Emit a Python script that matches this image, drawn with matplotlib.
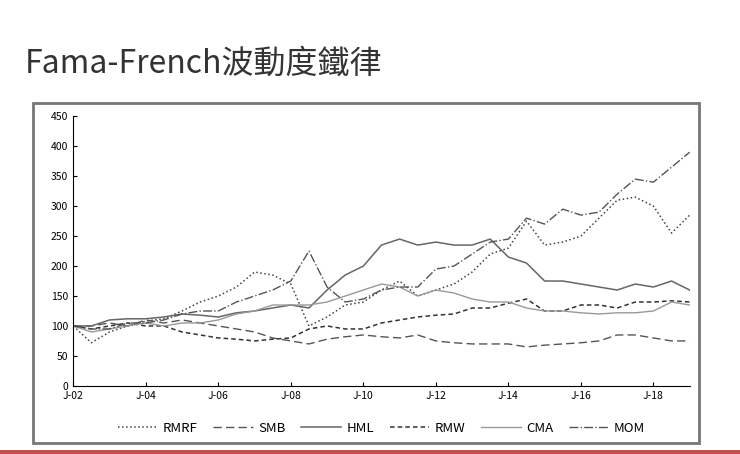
import numpy as np
import matplotlib.pyplot as plt
from matplotlib.patches import Rectangle

plt.rcParams['font.family'] = ['Noto Sans CJK TC', 'DejaVu Sans']

years = np.arange(2002.0, 2019.01, 0.5)
rmrf = [100,72,90,100,108,112,125,140,150,165,190,185,170,100,115,135,140,160,175,150,160,170,190,220,230,275,235,240,250,280,310,315,300,255,285]
smb = [100,100,105,100,110,105,110,105,100,95,90,80,75,70,78,82,85,82,80,85,75,72,70,70,70,65,68,70,72,75,85,85,80,75,75]
hml = [100,100,110,112,112,115,120,118,115,122,125,130,135,130,160,185,200,235,245,235,240,235,235,245,215,205,175,175,170,165,160,170,165,175,160]
rmw = [100,95,100,105,100,100,90,85,80,78,75,78,80,95,100,95,95,105,110,115,118,120,130,130,138,145,125,125,135,135,130,140,140,142,140]
cma = [100,90,95,100,105,100,105,105,110,120,125,135,135,135,140,150,160,170,165,150,160,155,145,140,140,130,125,125,122,120,122,122,125,140,135]
mom = [100,95,95,105,105,110,120,125,125,140,150,160,175,225,165,140,145,160,165,165,195,200,220,240,245,280,270,295,285,290,320,345,340,365,390]
tick_years = list(range(2002, 2019, 2))
tick_labels = ['J-%02d' % (y % 100) for y in tick_years]

fig = plt.figure(figsize=(7.4, 4.54), dpi=100)
fig.text(0.034, 0.84, 'Fama-French波動度鐵律', fontsize=23, color='#333333', fontweight='light')
fig.patches.append(Rectangle((0.045, 0.024), 0.9, 0.749, transform=fig.transFigure,
                             fill=False, edgecolor='#777777', linewidth=2))
fig.patches.append(Rectangle((0, 0.0), 1, 0.008, transform=fig.transFigure,
                             color='#c0504d', linewidth=0))

ax = fig.add_axes([0.099, 0.15, 0.833, 0.594])
ax.plot(years, rmrf, ls=':', color='#444444', lw=1.1, label='RMRF')
ax.plot(years, smb, ls=(0, (6, 3)), color='#555555', lw=1, label='SMB')
ax.plot(years, hml, ls='-', color='#666666', lw=1.1, label='HML')
ax.plot(years, rmw, ls=(0, (3, 2)), color='#333333', lw=1.1, label='RMW')
ax.plot(years, cma, ls='-', color='#999999', lw=1, label='CMA')
ax.plot(years, mom, ls='-.', color='#555555', lw=1, label='MOM')

ax.set_xlim(2002, 2019)
ax.set_ylim(0, 450)
ax.set_yticks(range(0, 451, 50))
ax.set_xticks(tick_years)
ax.set_xticklabels(tick_labels)
ax.tick_params(labelsize=7.5, length=3, direction='in')
for s in ['top', 'right']:
    ax.spines[s].set_visible(False)
ax.legend(ncol=6, loc='upper center', bbox_to_anchor=(0.5, -0.09), frameon=False,
          fontsize=9.5, handlelength=3, columnspacing=1.2, handletextpad=0.4)
fig.savefig('out.png', dpi=100)
